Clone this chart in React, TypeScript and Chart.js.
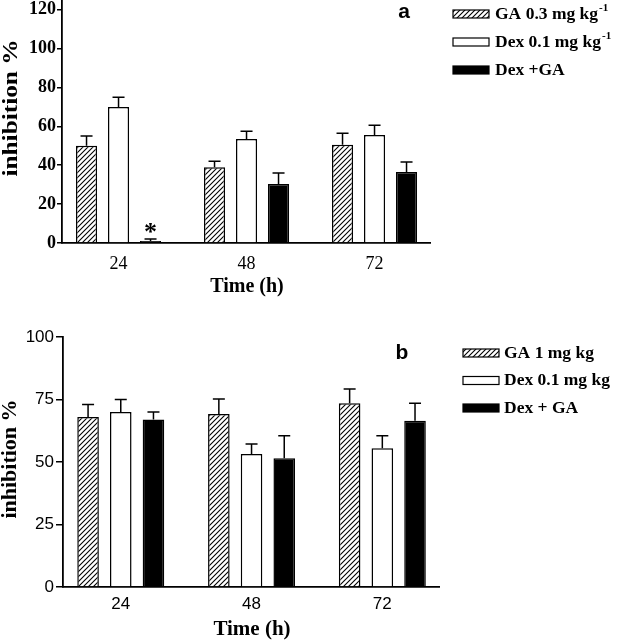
import React, { useEffect, useRef } from 'react';
import { Chart, registerables } from 'chart.js';

Chart.register(...registerables);

// ---------- data ----------
const TIMES = [24, 48, 72];
const Y_TICKS_A = [0, 20, 40, 60, 80, 100, 120];
const Y_TICKS_B = [0, 25, 50, 75, 100];

// Panel a
const GA_A = [50, 39, 50.5];
const GA_A_ERR = [5, 3, 6];
const DEX_A = [70, 53.5, 55.6];
const DEX_A_ERR = [5, 4, 5];
const COMBO_A = [1, 30.4, 36.5];
const COMBO_A_ERR = [1, 5.6, 5.2];
const COMBO_A_MARKS = ['*', '', ''];

// Panel b
const GA_B = [68, 69.2, 73.5];
const GA_B_ERR = [5, 6, 5.7];
const DEX_B = [70, 53.2, 55.5];
const DEX_B_ERR = [5, 4, 5];
const COMBO_B = [67, 51.5, 66.5];
const COMBO_B_ERR = [3, 9, 7];

const LABELS_A = ['GA 0.3 mg kg', 'Dex 0.1 mg kg', 'Dex +GA'];
const LABELS_A_SUP = ['-1', '-1', ''];
const LABELS_B = ['GA 1 mg kg', 'Dex 0.1 mg kg', 'Dex + GA'];
const LABELS_B_SUP = ['', '', ''];

const Y_TITLE = 'inhibition %';
const X_TITLE = 'Time (h)';

const SERIF = '"Liberation Serif", "Times New Roman", serif';
const SANS = '"Liberation Sans", Arial, sans-serif';

function makeHatch(): CanvasPattern | string {
  const c = document.createElement('canvas');
  c.width = 5;
  c.height = 5;
  const g = c.getContext('2d');
  if (!g) return '#fff';
  g.fillStyle = '#fff';
  g.fillRect(0, 0, 5, 5);
  g.strokeStyle = '#000';
  g.lineWidth = 1.1;
  g.beginPath();
  g.moveTo(0, 5);
  g.lineTo(5, 0);
  g.moveTo(-1, 1);
  g.lineTo(1, -1);
  g.moveTo(4, 6);
  g.lineTo(6, 4);
  g.stroke();
  return g.createPattern(c, 'repeat') || '#fff';
}

const decoPlugin = {
  id: 'deco',
  afterDatasetsDraw(chart: any, _args: any, opts: any) {
    const ctx = chart.ctx;
    const yScale = chart.scales.y;
    ctx.save();
    ctx.strokeStyle = '#000';
    ctx.fillStyle = '#000';
    ctx.lineWidth = 1.5;
    chart.data.datasets.forEach((ds: any, i: number) => {
      const meta = chart.getDatasetMeta(i);
      meta.data.forEach((el: any, j: number) => {
        const v = ds.data[j].y;
        const e = ds.errors[j];
        const x = el.x;
        const y0 = el.y;
        const y1 = yScale.getPixelForValue(v + e);
        ctx.beginPath();
        ctx.moveTo(x, y0);
        ctx.lineTo(x, y1);
        ctx.moveTo(x - opts.cap / 2, y1);
        ctx.lineTo(x + opts.cap / 2, y1);
        ctx.stroke();
        if (ds.marks && ds.marks[j]) {
          ctx.font = `bold 26px ${SERIF}`;
          ctx.textAlign = 'center';
          ctx.textBaseline = 'alphabetic';
          ctx.fillText(ds.marks[j], x, y1 + opts.markOffset);
        }
      });
    });
    ctx.restore();
  },
  afterDraw(chart: any, _args: any, opts: any) {
    const ctx = chart.ctx;
    ctx.save();
    ctx.fillStyle = '#000';
    // y title
    ctx.save();
    ctx.translate(opts.yTitleX, opts.yTitleY);
    ctx.rotate(-Math.PI / 2);
    ctx.scale(opts.yTitleStretch, 1);
    ctx.font = opts.yTitleFont;
    ctx.textAlign = 'center';
    ctx.textBaseline = 'middle';
    ctx.fillText(Y_TITLE, 0, 0);
    ctx.restore();
    // x title
    ctx.font = opts.xTitleFont;
    ctx.textAlign = 'center';
    ctx.textBaseline = 'middle';
    ctx.fillText(X_TITLE, opts.xTitleX, opts.xTitleY);
    // panel letter
    ctx.font = `bold 21px ${SANS}`;
    ctx.fillText(opts.letter, opts.letterX, opts.letterY);
    // legend
    chart.data.datasets.forEach((ds: any, i: number) => {
      const y = opts.legendY + i * opts.legendGap;
      ctx.fillStyle = ds.backgroundColor;
      ctx.fillRect(opts.boxX, y - opts.boxH / 2, opts.boxW, opts.boxH);
      ctx.strokeStyle = '#000';
      ctx.lineWidth = 1.2;
      ctx.strokeRect(opts.boxX, y - opts.boxH / 2, opts.boxW, opts.boxH);
      ctx.fillStyle = '#000';
      ctx.font = `bold 17.5px ${SERIF}`;
      ctx.textAlign = 'left';
      ctx.textBaseline = 'middle';
      ctx.fillText(ds.legendText, opts.textX, y);
      if (ds.legendSup) {
        const w = ctx.measureText(ds.legendText).width;
        ctx.font = `bold 11px ${SERIF}`;
        ctx.fillText(ds.legendSup, opts.textX + w + 1, y - 6);
      }
    });
    ctx.restore();
  },
};

type Spec = {
  series: { values: number[]; errors: number[]; marks?: string[]; text: string; sup: string }[];
  yTicks: number[];
  yMax: number;
  padTop: number;
  padRight: number;
  yAxisWidth: number;
  xAxisHeight: number;
  yTickFont: any;
  xTickFont: any;
  yTickLength: number;
  yTickPadding: number;
  xTickPadding: number;
  deco: any;
};

function buildConfig(spec: Spec, hatch: any): any {
  const fills = [hatch, '#ffffff', '#000000'];
  return {
    type: 'bar',
    data: {
      datasets: spec.series.map((s, i) => ({
        label: s.text + s.sup,
        legendText: s.text,
        legendSup: s.sup,
        data: TIMES.map((t, j) => ({ x: t, y: s.values[j] })),
        errors: s.errors,
        marks: s.marks,
        backgroundColor: fills[i],
        borderColor: '#000',
        borderWidth: 1.5,
        categoryPercentage: 0.75,
        barPercentage: 0.66,
      })),
    },
    options: {
      responsive: false,
      animation: false,
      devicePixelRatio: 1,
      layout: { padding: { top: spec.padTop, right: spec.padRight, bottom: 0, left: 0 } },
      scales: {
        x: {
          type: 'linear',
          offset: false,
          bounds: 'data',
          min: 13.4,
          max: 82.4,
          afterBuildTicks: (s: any) => {
            s.ticks = TIMES.map((v) => ({ value: v }));
          },
          afterFit: (s: any) => {
            s.height = spec.xAxisHeight;
            s.paddingLeft = 0;
            s.paddingRight = 0;
          },
          grid: { offset: false, drawOnChartArea: false, drawTicks: false, color: '#000' },
          border: { display: true, color: '#000', width: 1.8 },
          ticks: {
            color: '#000',
            font: spec.xTickFont,
            padding: spec.xTickPadding,
            maxRotation: 0,
            autoSkip: false,
            callback: (v: any) => String(v),
          },
        },
        y: {
          type: 'linear',
          min: 0,
          max: spec.yMax,
          bounds: 'data',
          afterBuildTicks: (s: any) => {
            s.ticks = spec.yTicks.map((v) => ({ value: v }));
          },
          afterFit: (s: any) => {
            s.width = spec.yAxisWidth;
            s.paddingTop = 0;
            s.paddingBottom = 0;
          },
          grid: {
            drawOnChartArea: false,
            drawTicks: true,
            tickLength: spec.yTickLength,
            color: '#000',
            lineWidth: 1.5,
          },
          border: { display: true, color: '#000', width: 1.8 },
          ticks: {
            color: '#000',
            font: spec.yTickFont,
            padding: spec.yTickPadding,
            autoSkip: false,
            callback: (v: any) => String(v),
          },
        },
      },
      plugins: {
        legend: { display: false },
        tooltip: { enabled: false },
        deco: spec.deco,
      },
    },
    plugins: [decoPlugin],
  };
}

const SPEC_A: Spec = {
  series: [
    { values: GA_A, errors: GA_A_ERR, text: LABELS_A[0], sup: LABELS_A_SUP[0] },
    { values: DEX_A, errors: DEX_A_ERR, text: LABELS_A[1], sup: LABELS_A_SUP[1] },
    { values: COMBO_A, errors: COMBO_A_ERR, marks: COMBO_A_MARKS, text: LABELS_A[2], sup: LABELS_A_SUP[2] },
  ],
  yTicks: Y_TICKS_A,
  yMax: 125,
  padTop: 0,
  padRight: 187,
  yAxisWidth: 62,
  xAxisHeight: 77,
  yTickFont: { family: SERIF, size: 18, weight: 'bold' },
  xTickFont: { family: SERIF, size: 18, weight: 'normal' },
  yTickLength: 5,
  yTickPadding: 1,
  xTickPadding: 10,
  deco: {
    cap: 12,
    markOffset: 1,
    yTitleX: 11,
    yTitleY: 108,
    yTitleStretch: 1.15,
    yTitleFont: `bold 22px ${SERIF}`,
    xTitleX: 247,
    xTitleY: 287,
    xTitleFont: `bold 20px ${SERIF}`,
    letter: 'a',
    letterX: 404,
    letterY: 12,
    legendY: 14,
    legendGap: 28,
    boxX: 453,
    boxW: 36,
    boxH: 8,
    textX: 495,
  },
};

const SPEC_B: Spec = {
  series: [
    { values: GA_B, errors: GA_B_ERR, text: LABELS_B[0], sup: LABELS_B_SUP[0] },
    { values: DEX_B, errors: DEX_B_ERR, text: LABELS_B[1], sup: LABELS_B_SUP[1] },
    { values: COMBO_B, errors: COMBO_B_ERR, text: LABELS_B[2], sup: LABELS_B_SUP[2] },
  ],
  yTicks: Y_TICKS_B,
  yMax: 100,
  padTop: 17,
  padRight: 178,
  yAxisWidth: 63,
  xAxisHeight: 53,
  yTickFont: { family: SANS, size: 17, weight: 'normal' },
  xTickFont: { family: SANS, size: 17, weight: 'normal' },
  yTickLength: 7,
  yTickPadding: 2,
  xTickPadding: 7,
  deco: {
    cap: 12,
    markOffset: 1,
    yTitleX: 10,
    yTitleY: 139,
    yTitleStretch: 1,
    yTitleFont: `bold 22px ${SERIF}`,
    xTitleX: 252,
    xTitleY: 310,
    xTitleFont: `bold 21px ${SERIF}`,
    letter: 'b',
    letterX: 402,
    letterY: 33,
    legendY: 33,
    legendGap: 27.5,
    boxX: 463,
    boxW: 36,
    boxH: 8,
    textX: 504,
  },
};

function Panel({ spec }: { spec: Spec }) {
  const ref = useRef<HTMLCanvasElement>(null);
  useEffect(() => {
    if (!ref.current) return;
    const hatch = makeHatch();
    const chart = new Chart(ref.current, buildConfig(spec, hatch));
    return () => chart.destroy();
  }, [spec]);
  return (
    <canvas
      ref={ref}
      width={617}
      height={320}
      style={{ display: 'block', width: 617, height: 320 }}
    />
  );
}

export default function App() {
  return (
    <div
      style={{
        position: 'absolute',
        left: 0,
        top: 0,
        width: 617,
        height: 640,
        background: '#fff',
        overflow: 'hidden',
      }}
    >
      <Panel spec={SPEC_A} />
      <Panel spec={SPEC_B} />
    </div>
  );
}
